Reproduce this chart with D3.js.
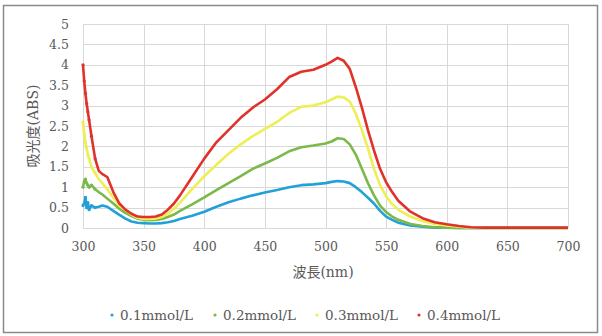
<!DOCTYPE html>
<html lang="ja">
<head>
<meta charset="UTF-8">
<title>吸光度スペクトル</title>
<script src="https://d3js.org/d3.v7.min.js"></script>
<style>
    body { margin: 0; background: #fff; }
    text { font-family: "DejaVu Serif", "Noto Sans CJK JP", serif; fill: #595959; }
    .grid line { stroke: #d9d9d9; stroke-width: 1; }
    .axis path, .axis line { display: none; }
</style>
</head>
<body>
<svg id="chart" width="602" height="336"></svg>
<script>
    // wavelength (nm)
    const wavelengths = [300,301,302,303,304,305,307,310,313,316,320,325,330,335,340,345,350,355,360,365,370,375,380,390,400,410,420,430,440,450,460,470,480,490,500,505,510,515,520,525,530,535,540,545,550,555,560,570,580,590,600,610,620,630,640,650,660,670,680,690,700];

    const abs01 = [0.55,0.6,0.75,0.5,0.62,0.45,0.55,0.5,0.52,0.55,0.52,0.42,0.32,0.23,0.16,0.13,0.12,0.11,0.11,0.12,0.14,0.17,0.22,0.3,0.4,0.52,0.63,0.72,0.8,0.87,0.93,1.0,1.05,1.07,1.1,1.13,1.15,1.14,1.1,1.0,0.88,0.74,0.6,0.42,0.28,0.2,0.13,0.06,0.03,0.01,0.01,0,0,0,0,0,0,0,0,0,0];
    const abs02 = [1.0,1.15,1.2,1.1,1.05,1.0,1.05,0.95,0.88,0.82,0.72,0.6,0.47,0.37,0.29,0.23,0.2,0.19,0.2,0.22,0.27,0.33,0.42,0.58,0.75,0.93,1.1,1.27,1.45,1.58,1.72,1.88,1.98,2.02,2.07,2.12,2.2,2.18,2.05,1.8,1.45,1.1,0.8,0.55,0.39,0.28,0.2,0.1,0.05,0.02,0.01,0,0,0,0,0,0,0,0,0,0];
    const abs03 = [2.6,2.3,2.1,1.95,1.8,1.7,1.5,1.35,1.2,1.1,0.95,0.75,0.55,0.45,0.33,0.25,0.22,0.22,0.23,0.27,0.35,0.47,0.62,0.95,1.27,1.55,1.82,2.05,2.25,2.43,2.6,2.82,2.97,3.0,3.08,3.15,3.22,3.2,3.1,2.8,2.4,1.95,1.45,1.05,0.78,0.58,0.45,0.28,0.17,0.1,0.06,0.03,0.01,0,0,0,0,0,0,0,0];
    const abs04 = [4.0,3.6,3.3,3.05,2.85,2.65,2.25,1.7,1.4,1.32,1.25,0.88,0.6,0.45,0.35,0.28,0.27,0.27,0.28,0.33,0.45,0.6,0.8,1.25,1.7,2.1,2.4,2.7,2.95,3.15,3.4,3.7,3.83,3.88,4.0,4.08,4.17,4.1,3.9,3.45,2.95,2.4,1.9,1.45,1.12,0.88,0.67,0.4,0.24,0.14,0.09,0.05,0.02,0.01,0.01,0.01,0.01,0.01,0.01,0.01,0.01];

    const seriesNames = ["0.1mmol/L", "0.2mmol/L", "0.3mmol/L", "0.4mmol/L"];
    const seriesValues = [abs01, abs02, abs03, abs04];
    const colors = ["#22a0d8", "#7cb84a", "#eeee55", "#e0322b"];

    const xTicks = [300,350,400,450,500,550,600,650,700];
    const yTicks = [0,0.5,1,1.5,2,2.5,3,3.5,4,4.5,5];

    const svg = d3.select("#chart");

    // outer frame
    svg.append("rect")
        .attr("x", 3.5).attr("y", 5.5)
        .attr("width", 594).attr("height", 327)
        .attr("fill", "none")
        .attr("stroke", "#8a8a8a")
        .attr("stroke-width", 1.5);

    const plotLeft = 83, plotRight = 568, plotTop = 24, plotBottom = 228;

    const x = d3.scaleLinear().domain([300, 700]).range([plotLeft, plotRight]);
    const y = d3.scaleLinear().domain([0, 5]).range([plotBottom, plotTop]);

    // gridlines
    svg.append("g").attr("class", "grid")
        .selectAll("line").data(yTicks).join("line")
        .attr("x1", plotLeft).attr("x2", plotRight)
        .attr("y1", d => Math.round(y(d)) + 0.5).attr("y2", d => Math.round(y(d)) + 0.5);
    svg.append("g").attr("class", "grid")
        .selectAll("line").data(xTicks).join("line")
        .attr("y1", plotTop).attr("y2", plotBottom)
        .attr("x1", d => Math.round(x(d)) + 0.5).attr("x2", d => Math.round(x(d)) + 0.5);

    // axes
    svg.append("g").attr("class", "axis")
        .attr("transform", `translate(0,${plotBottom + 8})`)
        .call(d3.axisBottom(x).tickValues(xTicks).tickSize(0).tickPadding(6));
    svg.append("g").attr("class", "axis")
        .attr("transform", `translate(${plotLeft - 12},0)`)
        .call(d3.axisLeft(y).tickValues(yTicks).tickSize(0).tickPadding(2).tickFormat(d3.format("")));
    svg.selectAll(".axis text")
        .attr("fill", "#595959")
        .style("font-family", "DejaVu Serif, serif")
        .style("font-size", "12.5px");

    // axis titles
    svg.append("text")
        .attr("transform", "translate(38,126) rotate(-90)")
        .attr("text-anchor", "middle")
        .style("font-size", "14px")
        .text("吸光度(ABS)");
    svg.append("text")
        .attr("x", 323).attr("y", 277)
        .attr("text-anchor", "middle")
        .style("font-size", "14px")
        .text("波長(nm)");

    // series
    const line = d3.line()
        .x((d, i) => x(wavelengths[i]))
        .y(d => y(d));

    seriesValues.forEach((vals, k) => {
        svg.append("path")
            .datum(vals)
            .attr("fill", "none")
            .attr("stroke", colors[k])
            .attr("stroke-width", 2.6)
            .attr("stroke-linejoin", "round")
            .attr("d", line);
        svg.append("g").selectAll("circle")
            .data(vals.slice(0, 8)).join("circle")
            .attr("cx", (d, i) => x(wavelengths[i]))
            .attr("cy", d => y(d))
            .attr("r", 1.6)
            .attr("fill", colors[k]);
    });

    // legend
    const legendX = [112, 215, 317, 419];
    const legend = svg.append("g");
    seriesNames.forEach((name, k) => {
        legend.append("circle")
            .attr("cx", legendX[k]).attr("cy", 315)
            .attr("r", 1.6)
            .attr("fill", colors[k]);
        legend.append("text")
            .attr("x", legendX[k] + 8).attr("y", 320)
            .style("font-size", "13.5px")
            .text(name);
    });
</script>
</body>
</html>
